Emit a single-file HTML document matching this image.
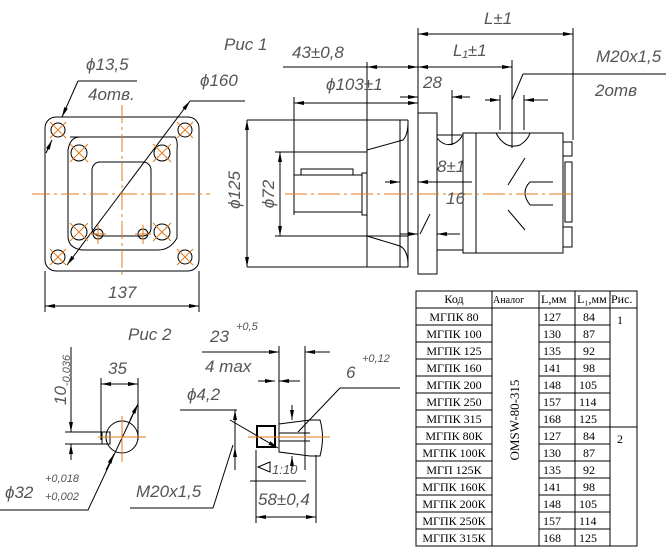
<!DOCTYPE html>
<html><head><meta charset="utf-8"><style>
html,body{margin:0;padding:0;background:#fff;}
svg{display:block}
.t{font-family:"Liberation Sans",sans-serif;font-style:italic;fill:#555;font-size:17px;}
.s{font-size:11px}
.tb{font-family:"Liberation Serif","Noto Serif CJK SC",serif;font-size:12px;fill:#000;}
</style></head><body>
<svg width="666" height="551" viewBox="0 0 666 551" xmlns="http://www.w3.org/2000/svg">
<defs>
<marker id="a" viewBox="0 0 10 4" refX="10" refY="2" markerWidth="10" markerHeight="4" markerUnits="userSpaceOnUse" orient="auto-start-reverse"><path d="M0 0 L10 2 L0 4Z" fill="#000"/></marker>
</defs>
<g fill="none" stroke="#000" stroke-width="1">
<!-- front view -->
<rect x="45" y="117" width="154" height="154" rx="11"/>
<path d="M70 137 L175 137 Q178 140 177 150 L177 238 Q170 250 158 250 L82 250 Q68 248 68 236 L68 150 Q70 137 80 137Z"/>
<rect x="92" y="162" width="59" height="74" rx="8"/>
<circle cx="58" cy="130" r="7"/><circle cx="185" cy="130" r="7"/>
<circle cx="58" cy="257" r="7"/><circle cx="185" cy="257" r="7"/>
<circle cx="79" cy="153" r="8"/><circle cx="162" cy="153" r="8"/>
<circle cx="79" cy="232" r="8"/><circle cx="162" cy="232" r="8"/>
<circle cx="98" cy="234" r="5"/><circle cx="143" cy="234" r="5"/>
<path d="M45 271 V312 M199 271 V312"/>
<path d="M45 306 H199" marker-start="url(#a)" marker-end="url(#a)"/>
<path d="M78 81 H137"/><path d="M78 81 L62 117" marker-end="url(#a)"/><path d="M52 140 L46 153" marker-start="url(#a)"/>
<path d="M190 101 H245"/><path d="M190 101 L67 265" marker-start="url(#a)" marker-end="url(#a)"/>
<!-- side view -->
<path d="M247 120 H408 M247 267 H408 M408 120 V267 M400 120 V267 M367 62 V267"/>
<path d="M247 120 V267" marker-start="url(#a)" marker-end="url(#a)"/>
<path d="M367 150 L403 140 Q408 135 408 122 M367 236 L400 246 Q408 250 408 265"/>
<rect x="418" y="113" width="19" height="161"/>
<rect x="437" y="135" width="26" height="115"/>
<rect x="463" y="133" width="100" height="120"/>
<path d="M476 133 V253"/>
<rect x="563" y="142" width="9" height="14"/><rect x="563" y="227" width="9" height="20"/>
<path d="M565 162 H572 V222 H565Z M572 165 V215"/>
<path d="M437 138 Q445 148 455 143 Q460 140 462 136 M496 133 Q505 150 520 145 Q528 140 530 133"/>
<path d="M525 158 L508 185 M508 210 L525 230 M530 182 H553 M530 205 H553 M530 182 Q520 192 530 205"/>
<rect x="294" y="175" width="68" height="37"/>
<rect x="301" y="169" width="52" height="6"/>
<rect x="362" y="173" width="5" height="42"/>
<path d="M280 152 V236" marker-start="url(#a)" marker-end="url(#a)"/>
<path d="M275 152 H367 M275 236 H408"/>
<path d="M294 97 V215 M418 28 V113 M573 28 V140 M512 60 V148 M452 90 V145 M500 95 V130 M524 95 V130"/>
<path d="M418 34 H573" marker-start="url(#a)" marker-end="url(#a)"/>
<path d="M418 67 H512" marker-start="url(#a)" marker-end="url(#a)"/>
<path d="M283 67 H418" marker-end="url(#a)"/><path d="M367 67 H380" marker-start="url(#a)"/>
<path d="M294 103 H418" marker-start="url(#a)" marker-end="url(#a)"/>
<path d="M400 97 H418" marker-end="url(#a)"/><path d="M452 97 H470" marker-start="url(#a)"/>
<path d="M485 100 H500" marker-end="url(#a)"/><path d="M524 100 H548" marker-start="url(#a)"/>
<path d="M523 74 H666 M523 74 L512 100"/>
<path d="M385 182 H400" marker-end="url(#a)"/><path d="M418 182 H472" marker-start="url(#a)"/>
<path d="M400 234 H418" marker-end="url(#a)"/><path d="M437 234 H460" marker-start="url(#a)"/>
<path d="M430 214 L420 234"/>
<!-- fig 2 left -->
<circle cx="122" cy="437" r="16"/>
<path d="M102 432 H110 V444 H102Z M65 432 H110 M65 444 H110"/>
<path d="M101 378 V440 M138 378 V440"/>
<path d="M101 384 H138" marker-start="url(#a)" marker-end="url(#a)"/>
<path d="M71 347 V432" marker-end="url(#a)"/><path d="M71 444 V460" marker-start="url(#a)"/>
<path d="M138 404 L88 510 H0"/>
<path d="M130 420 L138 404" marker-end="url(#a)"/><path d="M114 454 L106 470" marker-start="url(#a)"/>
<!-- fig 2 right -->
<rect x="257" y="426" width="18" height="21" stroke-width="2"/>
<path d="M279 424 L310 420 H320 Q325 437 320 456 H310 L279 452Z M279 433 H310 M279 441 H310"/>
<path d="M235 410 V470 M279 346 V430 M305 346 V470"/>
<path d="M202 352 H279" marker-end="url(#a)"/><path d="M305 352 H330" marker-start="url(#a)"/>
<path d="M258 381 H275" marker-end="url(#a)"/><path d="M279 381 H300" marker-start="url(#a)"/>
<path d="M230 420 L278 448" marker-end="url(#a)"/>
<path d="M180 410 H237"/>
<path d="M235 410 V426" marker-start="url(#a)"/><path d="M235 447 V468" marker-start="url(#a)"/>
<path d="M292 405 V420" marker-end="url(#a)"/><path d="M292 470 V456" marker-end="url(#a)"/>
<path d="M130 508 H213 L233 445"/>
<path d="M340 388 H400 M340 388 L298 432"/>
<path d="M250 481 H306 M256 450 V523 M316 455 V523"/>
<path d="M256 517 H316" marker-start="url(#a)" marker-end="url(#a)"/>
<path d="M270 462 L258 467 L270 472 Z"/>
</g>
<g fill="none" stroke="#e07b1a" stroke-width="1">
<path d="M32 194 H210 M122 105 V275" stroke-dasharray="18 4 3 4"/>
<path d="M285 194 H575" stroke-dasharray="22 4 3 4"/>
<path d="M50 122 L66 138 M66 122 L50 138 M177 122 L193 138 M193 122 L177 138 M50 249 L66 265 M66 249 L50 265 M177 249 L193 265 M193 249 L177 265 M70 144 L88 162 M88 144 L70 162 M153 144 L171 162 M171 144 L153 162 M70 223 L88 241 M88 223 L70 241 M153 223 L171 241 M171 223 L153 241"/>
<path d="M98 225 V244 M143 225 V244 M90 234 H106 M135 234 H151"/>
<path d="M98 437 H146 M122 416 V462 M248 437 H330"/>
</g>
<g class="t">
<text x="224" y="50">Рис 1</text>
<text x="86" y="70">ϕ13,5</text>
<text x="88" y="100">4отв.</text>
<text x="200" y="86">ϕ160</text>
<text x="108" y="298">137</text>
<text x="292" y="58">43±0,8</text>
<text x="326" y="90">ϕ103±1</text>
<text x="423" y="88">28</text>
<text x="484" y="24">L±1</text>
<text x="453" y="56">L₁±1</text>
<text x="596" y="62">M20x1,5</text>
<text x="595" y="96">2отв</text>
<text x="437" y="172">8±1</text>
<text x="446" y="204">16</text>
<text x="240" y="190" transform="rotate(-90 240 190)" text-anchor="middle">ϕ125</text>
<text x="274" y="194" transform="rotate(-90 274 194)" text-anchor="middle">ϕ72</text>
<text x="128" y="340">Рис 2</text>
<text x="108" y="374">35</text>
<text x="66" y="405" transform="rotate(-90 66 405)">10<tspan class="s" dy="4">-0,036</tspan></text>
<text x="5" y="498">ϕ32</text>
<text x="45" y="482" class="s">+0,018</text>
<text x="45" y="500" class="s">+0,002</text>
<text x="210" y="342">23</text><text x="236" y="330" class="s">+0,5</text>
<text x="205" y="372">4 max</text>
<text x="187" y="400">ϕ4,2</text>
<text x="346" y="378">6</text><text x="362" y="362" class="s">+0,12</text>
<text x="136" y="497">M20x1,5</text>
<text x="272" y="474" style="font-size:13px">1:10</text>
<text x="258" y="505">58±0,4</text>
</g>
<!-- table -->
<g fill="none" stroke="#000" stroke-width="1">
<rect x="416" y="291" width="221" height="255"/>
<path d="M492 291 V546 M539 291 V546 M575 291 V546 M610 291 V546 M416 308 H637 M610 427 H637"/>
<path d="M416 325 H492 M539 325 H610 M416 342 H492 M539 342 H610 M416 359 H492 M539 359 H610 M416 376 H492 M539 376 H610 M416 393 H492 M539 393 H610 M416 410 H492 M539 410 H610 M416 427 H492 M539 427 H610 M416 444 H492 M539 444 H610 M416 461 H492 M539 461 H610 M416 478 H492 M539 478 H610 M416 495 H492 M539 495 H610 M416 512 H492 M539 512 H610 M416 529 H492 M539 529 H610"/>
</g>
<g class="tb">
<text x="454" y="303" text-anchor="middle">Код</text>
<text x="493" y="303" style="font-size:10px">Аналог</text>
<text x="541" y="303">L,мм</text>
<text x="577" y="303">L₁,мм</text>
<text x="611" y="303">Рис.</text>
<g text-anchor="middle">
<text x="454" y="321">МГПК 80</text><text x="454" y="338">МГПК 100</text><text x="454" y="355">МГПК 125</text><text x="454" y="372">МГПК 160</text><text x="454" y="389">МГПК 200</text><text x="454" y="406">МГПК 250</text><text x="454" y="423">МГПК 315</text><text x="454" y="440">МГПК 80К</text><text x="454" y="457">МГПК 100К</text><text x="454" y="474">МГП 125К</text><text x="454" y="491">МГПК 160К</text><text x="454" y="508">МГПК 200К</text><text x="454" y="525">МГПК 250К</text><text x="454" y="542">МГПК 315К</text>
</g>
<g>
<text x="543" y="321">127</text><text x="543" y="338">130</text><text x="543" y="355">135</text><text x="543" y="372">141</text><text x="543" y="389">148</text><text x="543" y="406">157</text><text x="543" y="423">168</text><text x="543" y="440">127</text><text x="543" y="457">130</text><text x="543" y="474">135</text><text x="543" y="491">141</text><text x="543" y="508">148</text><text x="543" y="525">157</text><text x="543" y="542">168</text>
<text x="583" y="321">84</text><text x="583" y="338">87</text><text x="583" y="355">92</text><text x="583" y="372">98</text><text x="579" y="389">105</text><text x="579" y="406">114</text><text x="579" y="423">125</text><text x="583" y="440">84</text><text x="583" y="457">87</text><text x="583" y="474">92</text><text x="583" y="491">98</text><text x="579" y="508">105</text><text x="579" y="525">114</text><text x="579" y="542">125</text>
</g>
<text x="617" y="324">1</text><text x="617" y="443">2</text>
<text x="519" y="420" transform="rotate(-90 519 420)" text-anchor="middle" style="font-size:13px">OMSW-80-315</text>
</g>
</svg>
</body></html>
